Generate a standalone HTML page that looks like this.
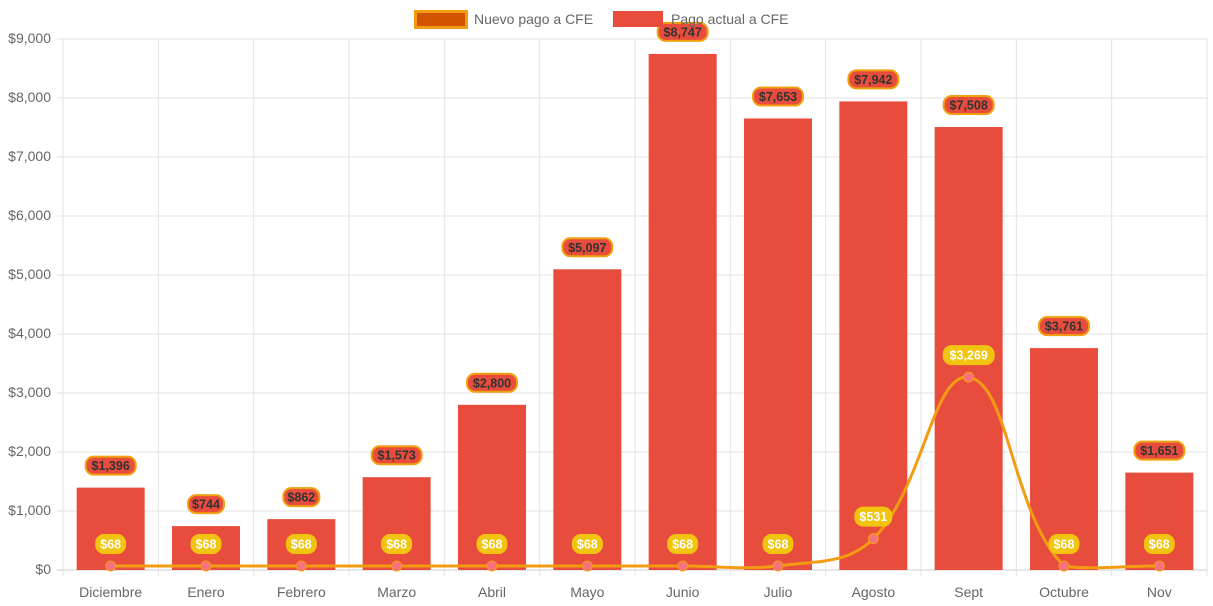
<!DOCTYPE html>
<html><head><meta charset="utf-8"><style>
html,body{margin:0;padding:0;background:#fff;}
svg{display:block;font-family:"Liberation Sans",sans-serif;}
</style></head><body>
<svg id="c" width="1213" height="606"></svg>
<script>
const categories=["Diciembre","Enero","Febrero","Marzo","Abril","Mayo","Junio","Julio","Agosto","Sept","Octubre","Nov"];
const actualValues=[1396,744,862,1573,2800,5097,8747,7653,7942,7508,3761,1651];
const newValues=[68,68,68,68,68,68,68,68,531,3269,68,68];
const yTicks=[0,1000,2000,3000,4000,5000,6000,7000,8000,9000];
const NS="http://www.w3.org/2000/svg";
const svg=document.getElementById('c');
const L=63,R=1207,T=39,B=570,yMax=9000;
const bw=(R-L)/categories.length;
const xs=i=>L+bw*(i+0.5);
const ys=v=>B-(v/yMax)*(B-T);
function el(t,a,p){const e=document.createElementNS(NS,t);for(const k in a)e.setAttribute(k,a[k]);(p||svg).appendChild(e);return e;}
const fmt=v=>"$"+v.toLocaleString("en-US");
const grid=el('g',{});


yTicks.forEach(v=>{
  el('line',{x1:L-6,x2:R,y1:ys(v),y2:ys(v),stroke:v===0?'#ccc':'#e3e3e3','stroke-width':1},grid);
  const t=el('text',{x:L-12,y:ys(v)+4,'text-anchor':'end','font-size':14,fill:'#666'},grid);
  t.textContent=fmt(v);
  
  
});
for(let i=0;i<=categories.length;i++){
  el('line',{x1:L+bw*i,x2:L+bw*i,y1:T,y2:B+6,stroke:'#e3e3e3','stroke-width':1},grid);
}
categories.forEach((c,i)=>{
  const t=el('text',{x:xs(i),y:597,'text-anchor':'middle','font-size':14,fill:'#666'});
  t.textContent=c;
  
  
});
actualValues.forEach((v,i)=>{
  const r=el('rect',{x:xs(i)-34,y:ys(v),width:68,height:B-ys(v),fill:'#e74c3c'});
  
  
});
const pts=newValues.map((v,i)=>({x:xs(i),y:ys(v)}));
const tension=0.4;
const clampY=y=>Math.max(T,Math.min(B,y));
const cps=pts.map((p,i)=>{
  const prev=pts[i-1]||p,next=pts[i+1]||p;
  const d01=Math.hypot(p.x-prev.x,p.y-prev.y),d12=Math.hypot(next.x-p.x,next.y-p.y);
  let fa=d01/(d01+d12)||0,fb=d12/(d01+d12)||0;
  fa*=tension;fb*=tension;
  return {px:p.x-fa*(next.x-prev.x),py:clampY(p.y-fa*(next.y-prev.y)),nx:p.x+fb*(next.x-prev.x),ny:clampY(p.y+fb*(next.y-prev.y))};
});
let d=`M${pts[0].x},${pts[0].y}`;
for(let i=1;i<pts.length;i++){d+=` C${cps[i-1].nx},${cps[i-1].ny} ${cps[i].px},${cps[i].py} ${pts[i].x},${pts[i].y}`;}
const line=el('path',{d:d,fill:'none',stroke:'#f39c12','stroke-width':3});


pts.forEach((p,i)=>{
  const c=el('circle',{cx:p.x,cy:p.y,r:5,fill:'#f7727f',stroke:'#f39c12','stroke-width':1});
  
  
});
function label(x,y,txt,fill,stroke,color,name){
  const g=el('g',{});
  
  
  const w=txt.length*7+8;
  el('rect',{x:x-w/2,y:y-9,width:w,height:18,rx:8,fill:fill,stroke:stroke,'stroke-width':2},g);
  const t=el('text',{x:x,y:y+4.5,'text-anchor':'middle','font-size':12.5,'font-weight':'bold',fill:color},g);
  t.textContent=txt;
}
actualValues.forEach((v,i)=>label(xs(i),ys(v)-22,fmt(v),'#e74c3c','#f1a10f','#333','bar-value-label'));
newValues.forEach((v,i)=>label(xs(i),ys(v)-22,fmt(v),'#f1c40f','#f1c40f','#fff','line-value-label'));
const lg=el('g',{});


const l1=el('g',{},lg);


el('rect',{x:415.5,y:11.5,width:51,height:16,fill:'#d35400',stroke:'#f39c12','stroke-width':3},l1);
const t1=el('text',{x:474,y:24,'font-size':14,fill:'#666'},l1);t1.textContent='Nuevo pago a CFE';
const l2=el('g',{},lg);


el('rect',{x:613,y:11,width:50,height:16,fill:'#e74c3c'},l2);
const t2=el('text',{x:671,y:24,'font-size':14,fill:'#666'},l2);t2.textContent='Pago actual a CFE';
</script>
</body></html>
